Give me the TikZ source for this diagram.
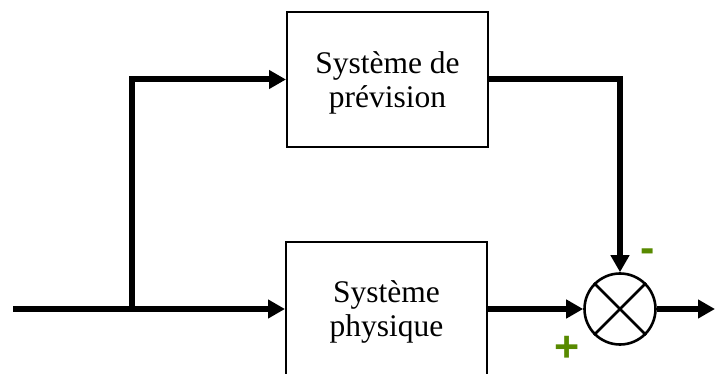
\documentclass[tikz,border=0pt]{standalone}
\usepackage{fontspec}
\setmainfont{Liberation Serif}
\newfontfamily\signfont{Liberation Sans}
\usetikzlibrary{arrows.meta}
\definecolor{signgreen}{RGB}{88,138,0}
\tikzset{
  blk/.style={draw, line width=2pt, rectangle, inner sep=0pt},
  txt/.style={align=center, inner sep=0pt, font=\fontsize{31.5}{34}\selectfont},
  sig/.style={line width=6pt, line join=miter},
  arr/.style={sig, -{Triangle[length=17pt,width=18pt]}},
  sumnode/.style={draw, circle, line width=2.6pt, minimum size=71pt, inner sep=0pt},
  sgn/.style={text=signgreen, font=\signfont\bfseries\fontsize{43}{43}\selectfont, inner sep=0pt}
}
\begin{document}
\begin{tikzpicture}[x=1pt,y=-1pt]
\useasboundingbox (0,0) rectangle (715,374);
\clip (0,0) rectangle (715,374);
\node[blk, minimum width=201pt, minimum height=135pt] (prev) at (387.5,79.5) {};
\node[txt] (prevtxt) at (387.5,82.5) {Système de\\prévision};
\node[blk, minimum width=201pt, minimum height=140pt] (phys) at (386.5,312) {};
\node[txt] (phystxt) at (386.5,311.5) {Système\\physique};
\node[sumnode] (sum) at (620,309) {};
\draw[line width=2.6pt] (sum.north west) -- (sum.south east) (sum.north east) -- (sum.south west);
\coordinate (in) at (13,309);
\coordinate (split) at (132,309);
\coordinate (out) at (715,309);
\draw[arr] (in) -- (phys.west |- in);
\draw[arr] (split) |- (prev.west);
\draw[arr] (prev.east) -| (sum.north);
\draw[arr] (phys.east |- sum.west) -- (sum.west);
\draw[arr] (sum.east) -- (sum.east -| out);
\node[sgn] (minus) at (647.5,256) {-};
\node[sgn] (plus) at (567.5,349) {+};
\end{tikzpicture}
\end{document}
